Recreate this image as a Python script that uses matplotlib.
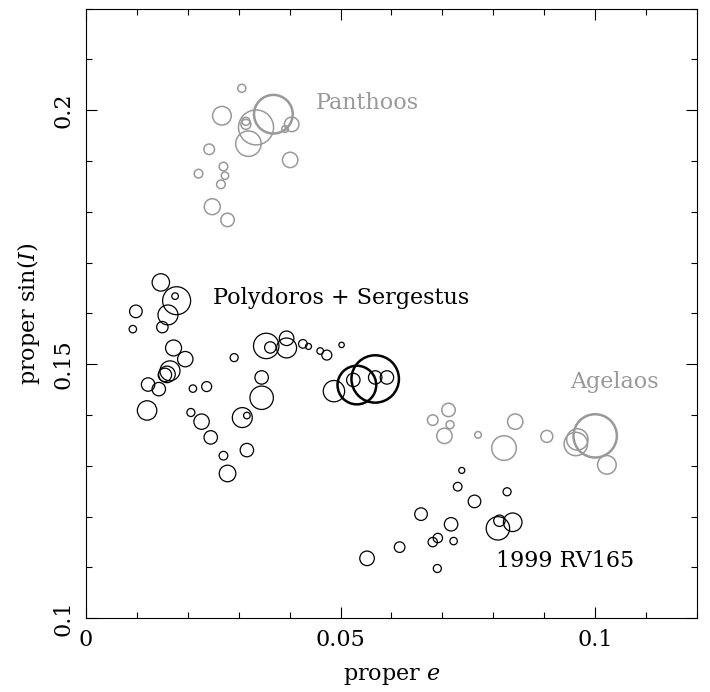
import matplotlib
matplotlib.use("Agg")
import matplotlib.pyplot as plt
from matplotlib.patches import Circle
from matplotlib.ticker import MultipleLocator, FixedLocator

plt.rcParams['font.family'] = 'DejaVu Serif'
plt.rcParams['mathtext.fontset'] = 'dejavuserif'

# proper e, proper sin(I), circle radius (in units of e) for each family
panthoos_e = [0.0306, 0.0267, 0.0368, 0.0334, 0.0314, 0.0314, 0.0319, 0.0404,
              0.0391, 0.0242, 0.0401, 0.0221, 0.0270, 0.0273, 0.0265, 0.0248, 0.0278]
panthoos_s = [0.2043, 0.1989, 0.1992, 0.1966, 0.1978, 0.1972, 0.1934, 0.1972,
              0.1963, 0.1923, 0.1902, 0.1875, 0.1889, 0.1871, 0.1854, 0.1810, 0.1784]
panthoos_r = [0.00079, 0.00183, 0.0038, 0.00344, 0.00079, 0.00098, 0.0025, 0.00143,
              0.00065, 0.00104, 0.00151, 0.00085, 0.00085, 0.00073, 0.00085, 0.00157, 0.00132]

polydoros_e = [0.0147, 0.0178, 0.0175, 0.0161, 0.0098, 0.0092, 0.0150, 0.0172,
               0.0195, 0.0291, 0.0165, 0.0159, 0.0155, 0.0122, 0.0143, 0.0210,
               0.0237, 0.0120, 0.0206, 0.0227, 0.0307, 0.0316, 0.0345, 0.0345,
               0.0245, 0.0270, 0.0316, 0.0278, 0.0354, 0.0362, 0.0394, 0.0394,
               0.0426, 0.0437, 0.0460, 0.0473, 0.0502, 0.0487, 0.0532, 0.0568,
               0.0525, 0.0568, 0.0591]
polydoros_s = [0.1661, 0.1625, 0.1634, 0.1597, 0.1604, 0.1569, 0.1573, 0.1532,
               0.1510, 0.1513, 0.1487, 0.1480, 0.1479, 0.1460, 0.1451, 0.1452,
               0.1456, 0.1409, 0.1405, 0.1387, 0.1395, 0.1399, 0.1434, 0.1474,
               0.1356, 0.1320, 0.1331, 0.1285, 0.1536, 0.1533, 0.1551, 0.1532,
               0.1540, 0.1535, 0.1526, 0.1518, 0.1538, 0.1447, 0.1459, 0.1471,
               0.1469, 0.1474, 0.1474]
polydoros_r = [0.00171, 0.00275, 0.00065, 0.00196, 0.00124, 0.00073, 0.00112, 0.00157,
               0.00151, 0.00079, 0.00196, 0.00163, 0.00132, 0.00132, 0.00132, 0.00073,
               0.00098, 0.00191, 0.00079, 0.00151, 0.00196, 0.00065, 0.0023, 0.00132,
               0.00132, 0.00085, 0.00132, 0.00163, 0.0025, 0.00112, 0.00143, 0.00196,
               0.00085, 0.00059, 0.00065, 0.00098, 0.00053, 0.0021, 0.0038, 0.00466,
               0.00132, 0.00132, 0.00132]

agelaos_e = [0.0712, 0.0681, 0.0715, 0.0704, 0.0770, 0.0843, 0.0821, 0.0905,
             0.0962, 0.0965, 0.1000, 0.1023]
agelaos_s = [0.1410, 0.1390, 0.1381, 0.1359, 0.1361, 0.1387, 0.1335, 0.1358,
             0.1343, 0.1352, 0.1359, 0.1302]
agelaos_r = [0.00132, 0.00104, 0.00079, 0.00151, 0.00065, 0.00151, 0.00242, 0.00118,
             0.0023, 0.0021, 0.00426, 0.00183]

rv165_e = [0.0738, 0.0730, 0.0763, 0.0827, 0.0658, 0.0717, 0.0691, 0.0681,
           0.0722, 0.0809, 0.0812, 0.0838, 0.0690, 0.0616, 0.0552]
rv165_s = [0.1291, 0.1259, 0.1230, 0.1249, 0.1205, 0.1185, 0.1158, 0.1150,
           0.1152, 0.1177, 0.1192, 0.1189, 0.1098, 0.1140, 0.1118]
rv165_r = [0.00059, 0.00085, 0.00124, 0.00079, 0.00124, 0.00132, 0.00092, 0.00092,
           0.00073, 0.0023, 0.00112, 0.00183, 0.00079, 0.00104, 0.00143]

families = [
    ('Panthoos', panthoos_e, panthoos_s, panthoos_r, '#999999', (0.0452, 0.2014)),
    ('Polydoros + Sergestus', polydoros_e, polydoros_s, polydoros_r, 'black', (0.0250, 0.1630)),
    ('Agelaos', agelaos_e, agelaos_s, agelaos_r, '#999999', (0.0951, 0.1465)),
    ('1999 RV165', rv165_e, rv165_s, rv165_r, 'black', (0.0806, 0.1113)),
]

fs = 16

fig = plt.figure(figsize=(7.1, 6.92), dpi=100)
ax = fig.add_axes([0.1211, 0.1065, 0.8606, 0.8812])

for name, es, ss, rs, col, (tx, ty) in families:
    for e, s, r in zip(es, ss, rs):
        # the largest members are drawn with a heavier line
        lw = 1.8 if r > 0.0035 else (1.1 if col != 'black' else 0.9)
        ax.add_patch(Circle((e, s), r, fill=False, edgecolor=col, lw=lw))
    ax.text(tx, ty, name, color=col, fontsize=fs, va='center', ha='left')

ax.set_xlim(0, 0.12)
ax.set_ylim(0.1, 0.22)
ax.xaxis.set_major_locator(FixedLocator([0, 0.05, 0.1]))
ax.yaxis.set_major_locator(FixedLocator([0.1, 0.15, 0.2]))
ax.xaxis.set_minor_locator(MultipleLocator(0.01))
ax.yaxis.set_minor_locator(MultipleLocator(0.01))
ax.set_xticklabels(['0', '0.05', '0.1'])
ax.set_yticklabels(['0.1', '0.15', '0.2'], rotation=90, va='center')
ax.tick_params(which='both', direction='in', top=True, right=True, width=0.8, labelsize=fs)
ax.tick_params(which='major', length=8, pad=8)
ax.tick_params(which='minor', length=4.3)
for sp in ax.spines.values():
    sp.set_linewidth(0.8)

ax.set_xlabel('proper $e$', fontsize=fs, labelpad=10)
ax.set_ylabel('proper sin($I$)', fontsize=fs, labelpad=8)

fig.savefig('out.png', dpi=100)
